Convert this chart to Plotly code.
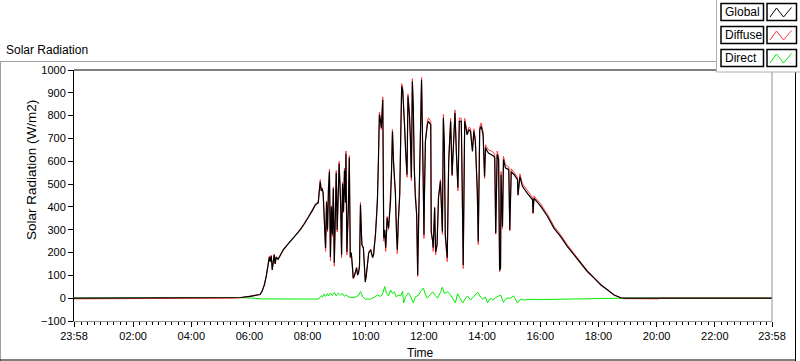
import plotly.graph_objects as go

# ---------------- data ----------------
# first time stamp belongs to the previous day (window start 23:58)
times = ["23:58", "05:00", "05:24", "05:41", "06:02", "06:14", "06:22", "06:26", "06:31", "06:35",
         "06:37", "06:39", "06:41", "06:43", "06:45", "06:47", "06:49", "06:51", "06:53", "06:55",
         "06:59", "07:04", "07:10", "07:16", "07:24", "07:30", "07:38", "07:45", "07:53", "08:01",
         "08:10", "08:16", "08:22", "08:24", "08:26", "08:28", "08:30", "08:32", "08:34", "08:37",
         "08:39", "08:41", "08:43", "08:45", "08:47", "08:49", "08:51", "08:53", "08:55", "08:57",
         "08:59", "09:01", "09:03", "09:05", "09:08", "09:10", "09:12", "09:14", "09:16", "09:18",
         "09:19", "09:21", "09:24", "09:26", "09:28", "09:30", "09:32", "09:34", "09:36", "09:39",
         "09:41", "09:43", "09:45", "09:47", "09:49", "09:51", "09:52", "09:55", "09:57", "09:59",
         "10:01", "10:03", "10:06", "10:10", "10:12", "10:14", "10:16", "10:18", "10:20", "10:22",
         "10:24", "10:26", "10:28", "10:30", "10:32", "10:35", "10:37", "10:39", "10:41", "10:43",
         "10:44", "10:47", "10:49", "10:51", "10:53", "10:55", "10:57", "10:59", "11:01", "11:03",
         "11:05", "11:07", "11:10", "11:12", "11:14", "11:16", "11:18", "11:20", "11:22", "11:24",
         "11:25", "11:27", "11:30", "11:32", "11:34", "11:36", "11:38", "11:40", "11:42", "11:45",
         "11:47", "11:49", "11:51", "11:53", "11:55", "11:58", "12:00", "12:01", "12:03", "12:07",
         "12:09", "12:14", "12:15", "12:18", "12:19", "12:22", "12:24", "12:27", "12:30", "12:34",
         "12:38", "12:40", "12:42", "12:44", "12:48", "12:51", "12:55", "12:58", "13:02", "13:04",
         "13:07", "13:10", "13:13", "13:17", "13:19", "13:21", "13:24", "13:27", "13:29", "13:33",
         "13:36", "13:40", "13:43", "13:46", "13:50", "13:52", "13:55", "13:58", "14:02", "14:05",
         "14:07", "14:09", "14:13", "14:19", "14:24", "14:26", "14:28", "14:31", "14:34", "14:36",
         "14:38", "14:39", "14:42", "14:44", "14:48", "14:55", "14:57", "15:00", "15:06", "15:13",
         "15:14", "15:18", "15:23", "15:33", "15:44", "15:45", "15:47", "16:01", "16:15", "16:28",
         "16:42", "16:56", "17:10", "17:23", "17:37", "17:51", "18:05", "18:19", "18:32", "18:46",
         "18:54", "20:05", "20:07", "23:58"]

global_wm2 = [0, 0, 1, 3, 8, 12, 16, 30, 60, 100,
              135, 165, 180, 160, 185, 124, 175, 190, 150, 180,
              170, 190, 212, 228, 248, 262, 278, 300, 325, 352,
              385, 409, 418, 470, 510, 470, 480, 460, 365, 220,
              420, 300, 480, 554, 181, 400, 280, 480, 155, 350,
              549, 300, 450, 589, 420, 190, 500, 380, 560, 420,
              633, 203, 400, 615, 181, 200, 150, 89, 95, 120,
              133, 102, 110, 140, 409, 280, 234, 220, 150, 71,
              100, 150, 198, 212, 190, 178, 190, 230, 280, 352,
              431, 600, 804, 780, 747, 870, 264, 300, 221, 300,
              352, 308, 380, 422, 550, 730, 600, 520, 466, 300,
              212, 335, 453, 700, 928, 914, 850, 753, 650, 600,
              541, 884, 804, 700, 528, 950, 834, 571, 450, 365,
              102, 350, 541, 687, 957, 571, 278, 450, 687, 760,
              775, 760, 292, 250, 221, 396, 204, 234, 440, 512,
              292, 790, 672, 278, 177, 599, 775, 541, 715, 812,
              629, 484, 775, 775, 468, 146, 775, 747, 716, 738,
              731, 643, 731, 687, 468, 248, 738, 753, 716, 533,
              659, 650, 636, 629, 622, 615, 286, 630, 608, 124,
              133, 541, 314, 608, 571, 563, 300, 555, 541, 519,
              453, 533, 490, 460, 431, 373, 438, 402, 358, 307,
              270, 226, 190, 153, 117, 88, 58, 36, 14, 2,
              0, 0, 0, 0]

diffuse_wm2 = [-3, -3, 0, 2, 8, 12, 17, 31, 62, 102,
               137, 168, 184, 162, 188, 126, 177, 193, 152, 182,
               172, 193, 216, 230, 252, 264, 282, 302, 329, 355,
               389, 412, 425, 474, 520, 475, 484, 462, 360, 205,
               425, 290, 488, 566, 165, 405, 270, 488, 140, 345,
               560, 290, 458, 600, 425, 178, 508, 375, 570, 418,
               645, 190, 405, 625, 175, 198, 145, 85, 95, 122,
               135, 100, 112, 145, 420, 282, 236, 222, 148, 70,
               102, 152, 200, 215, 192, 180, 193, 235, 285, 358,
               440, 610, 815, 790, 740, 882, 250, 298, 205, 302,
               358, 300, 385, 428, 556, 740, 605, 518, 460, 290,
               195, 330, 460, 710, 940, 925, 858, 760, 655, 598,
               530, 895, 810, 702, 515, 962, 840, 565, 445, 355,
               95, 355, 548, 695, 968, 575, 262, 455, 695, 772,
               790, 775, 285, 245, 205, 400, 190, 230, 448, 520,
               280, 805, 680, 265, 160, 608, 788, 535, 725, 825,
               635, 470, 790, 788, 460, 130, 788, 760, 728, 750,
               742, 650, 742, 695, 460, 235, 750, 768, 728, 525,
               672, 663, 650, 645, 638, 628, 280, 645, 622, 115,
               130, 555, 305, 622, 585, 575, 295, 567, 552, 530,
               450, 545, 502, 471, 441, 370, 448, 412, 367, 316,
               278, 233, 196, 158, 121, 91, 60, 37, 15, 2,
               -2, -3, 0, 0]

direct_times = ["23:58", "05:33", "05:51", "06:26", "07:04", "07:45", "08:22", "08:28", "08:31", "08:34",
                "08:37", "08:41", "08:43", "08:47", "08:51", "08:55", "08:59", "09:03", "09:08", "09:12",
                "09:16", "09:20", "09:24", "09:28", "09:32", "09:39", "09:45", "09:49", "09:54", "09:59",
                "10:10", "10:18", "10:24", "10:30", "10:34", "10:39", "10:43", "10:47", "10:51", "10:55",
                "10:59", "11:03", "11:07", "11:12", "11:16", "11:18", "11:22", "11:28", "11:32", "11:38",
                "11:42", "11:49", "11:53", "11:59", "12:03", "12:07", "12:14", "12:18", "12:24", "12:28",
                "12:34", "12:38", "12:42", "12:49", "12:55", "12:59", "13:05", "13:09", "13:13", "13:20",
                "13:26", "13:30", "13:36", "13:42", "13:51", "13:55", "14:01", "14:07", "14:11", "14:17",
                "14:22", "14:30", "14:38", "14:44", "14:50", "14:58", "15:05", "15:13", "15:19", "15:26",
                "15:40", "16:01", "16:42", "17:23", "18:05", "18:46", "18:50", "23:58"]

direct_wm2 = [0, 0, 2, -3, -4, -5, -4, 10, 5, 18,
              8, 20, 10, 22, 12, 25, 10, 22, 15, 20,
              8, 15, 5, 5, 2, 5, 12, 29, 5, -4,
              -4, 5, 14, 8, 14, 51, 20, 10, 36, 20,
              28, 5, 14, 10, 30, -21, 5, 23, 10, -21,
              5, 14, 30, 44, 15, 0, 20, 28, 10, 0,
              25, 48, 20, 28, 14, 0, -21, 20, 5, -21,
              0, 10, -8, 5, 26, 10, -4, 5, -21, 0,
              -8, 5, 14, -18, 0, 0, 10, -21, -5, -8,
              -5, -6, -5, -4, -3, -2, 0, 0]

tick_labels = ["23:58", "02:00", "04:00", "06:00", "08:00", "10:00", "12:00",
               "14:00", "16:00", "18:00", "20:00", "22:00", "23:58"]

DAY, PREV = "2024-01-02", "2024-01-01"


def stamp(seq):
    return [f"{PREV if i == 0 else DAY} {t}:00" for i, t in enumerate(seq)]


# ---------------- layout geometry (pixels) ----------------
W, H = 800, 361
PL, PR, PT, PB = 74, 772, 70, 321


def px(x):
    return (x - PL) / (PR - PL)


def py(y):
    return (PB - y) / (PB - PT)


FONT = "Liberation Sans, Arial, sans-serif"

fig = go.Figure()
fig.add_trace(go.Scatter(x=stamp(direct_times), y=direct_wm2, mode="lines",
                         line=dict(color="#00ee00", width=1), name="Direct", showlegend=False))
fig.add_trace(go.Scatter(x=stamp(times), y=diffuse_wm2, mode="lines",
                         line=dict(color="#ff3a3a", width=1), name="Diffuse", showlegend=False))
fig.add_trace(go.Scatter(x=stamp(times), y=global_wm2, mode="lines",
                         line=dict(color="#000000", width=1.2), name="Global", showlegend=False))

shapes = []


def hline(y, x0, x1, color, w=1):
    shapes.append(dict(type="line", xref="paper", yref="paper", x0=px(x0), x1=px(x1),
                       y0=py(y), y1=py(y), line=dict(color=color, width=w), layer="above"))


def vline(x, y0, y1, color, w=1):
    shapes.append(dict(type="line", xref="paper", yref="paper", x0=px(x), x1=px(x),
                       y0=py(y0), y1=py(y1), line=dict(color=color, width=w), layer="above"))


# outer panel frame
hline(61.5, 0, 717, "#a0a0a0")
vline(0.5, 61, 361, "#a0a0a0")
hline(360, 0, 796, "#000000")
vline(795.5, 72, 361, "#000000")
# plot border (top black, right gray)
hline(PT, PL, PR, "#000000")
vline(PR, PT, PB, "#909090")

# legend panel
shapes.append(dict(type="rect", xref="paper", yref="paper", x0=px(716.5), x1=px(800),
                   y0=py(72), y1=py(0), fillcolor="white", line=dict(width=0), layer="above"))
vline(716.5, 0, 72, "#b0b0b0")
hline(72, 716.5, 800, "#b0b0b0")
legend_rows = [("Global", "#000000", 3.5, 20.5), ("Diffuse", "#ff3a3a", 26.5, 43.5),
               ("Direct", "#00ee00", 49.5, 66.5)]
annotations = []
for name, col, y0, y1 in legend_rows:
    shapes.append(dict(type="rect", xref="paper", yref="paper", x0=px(721), x1=px(763.5),
                       y0=py(y1), y1=py(y0), line=dict(color="black", width=1.5), layer="above"))
    shapes.append(dict(type="rect", xref="paper", yref="paper", x0=px(767), x1=px(796.5),
                       y0=py(y1), y1=py(y0), line=dict(color="black", width=1.5), layer="above"))
    pts = [(770, y1 - 3.5), (776.5, y0 + 4.5), (783.5, y1 - 3.5), (791.5, y0 + 4)]
    path = "M " + " L ".join(f"{px(a)},{py(b)}" for a, b in pts)
    shapes.append(dict(type="path", xref="paper", yref="paper", path=path,
                       line=dict(color=col, width=1), layer="above"))
    annotations.append(dict(text=name, xref="paper", yref="paper", x=px(723), y=py((y0 + y1) / 2),
                            xanchor="left", yanchor="middle", showarrow=False,
                            font=dict(family=FONT, size=12, color="black")))

# titles
annotations.append(dict(text="Solar Radiation", xref="paper", yref="paper", x=px(4), y=py(50),
                        xanchor="left", yanchor="middle", showarrow=False,
                        font=dict(family=FONT, size=12, color="black")))
annotations.append(dict(text="Time", xref="paper", yref="paper", x=px(420), y=py(353),
                        xanchor="center", yanchor="middle", showarrow=False,
                        font=dict(family=FONT, size=12, color="black")))
annotations.append(dict(text="Solar Radiation (W/m2)", xref="paper", yref="paper", x=px(31), y=py(170),
                        xanchor="center", yanchor="middle", textangle=-90, showarrow=False,
                        font=dict(family=FONT, size=13.5, color="black")))

fig.update_layout(
    width=W, height=H,
    margin=dict(l=PL, r=W - PR, t=PT, b=H - PB, pad=0),
    paper_bgcolor="white", plot_bgcolor="white",
    showlegend=False,
    shapes=shapes, annotations=annotations,
    font=dict(family=FONT, size=11, color="black"),
    xaxis=dict(type="date", range=[f"{PREV} 23:58:00", f"{DAY} 23:58:00"],
               tickmode="array", tickvals=stamp(tick_labels), ticktext=tick_labels,
               ticks="outside", ticklen=5, tickwidth=1, tickcolor="black",
               showline=True, linecolor="#909090", linewidth=1,
               showgrid=False, zeroline=False, tickfont=dict(size=11),
               minor=dict(ticks="outside", ticklen=3, tickcolor="black", tickwidth=1,
                          tickmode="linear", tick0=f"{DAY} 02:00:00", dtick=800000,
                          showgrid=False)),
    yaxis=dict(range=[-100, 1000], tickmode="linear", tick0=0, dtick=100,
               ticks="outside", ticklen=5, tickcolor="black",
               showline=True, linecolor="black", linewidth=1,
               showgrid=False, zeroline=False, tickfont=dict(size=11)),
)

fig.write_html("out.html", config={"displayModeBar": False},
               post_script="document.body.style.margin='0';document.body.style.overflow='hidden';")
